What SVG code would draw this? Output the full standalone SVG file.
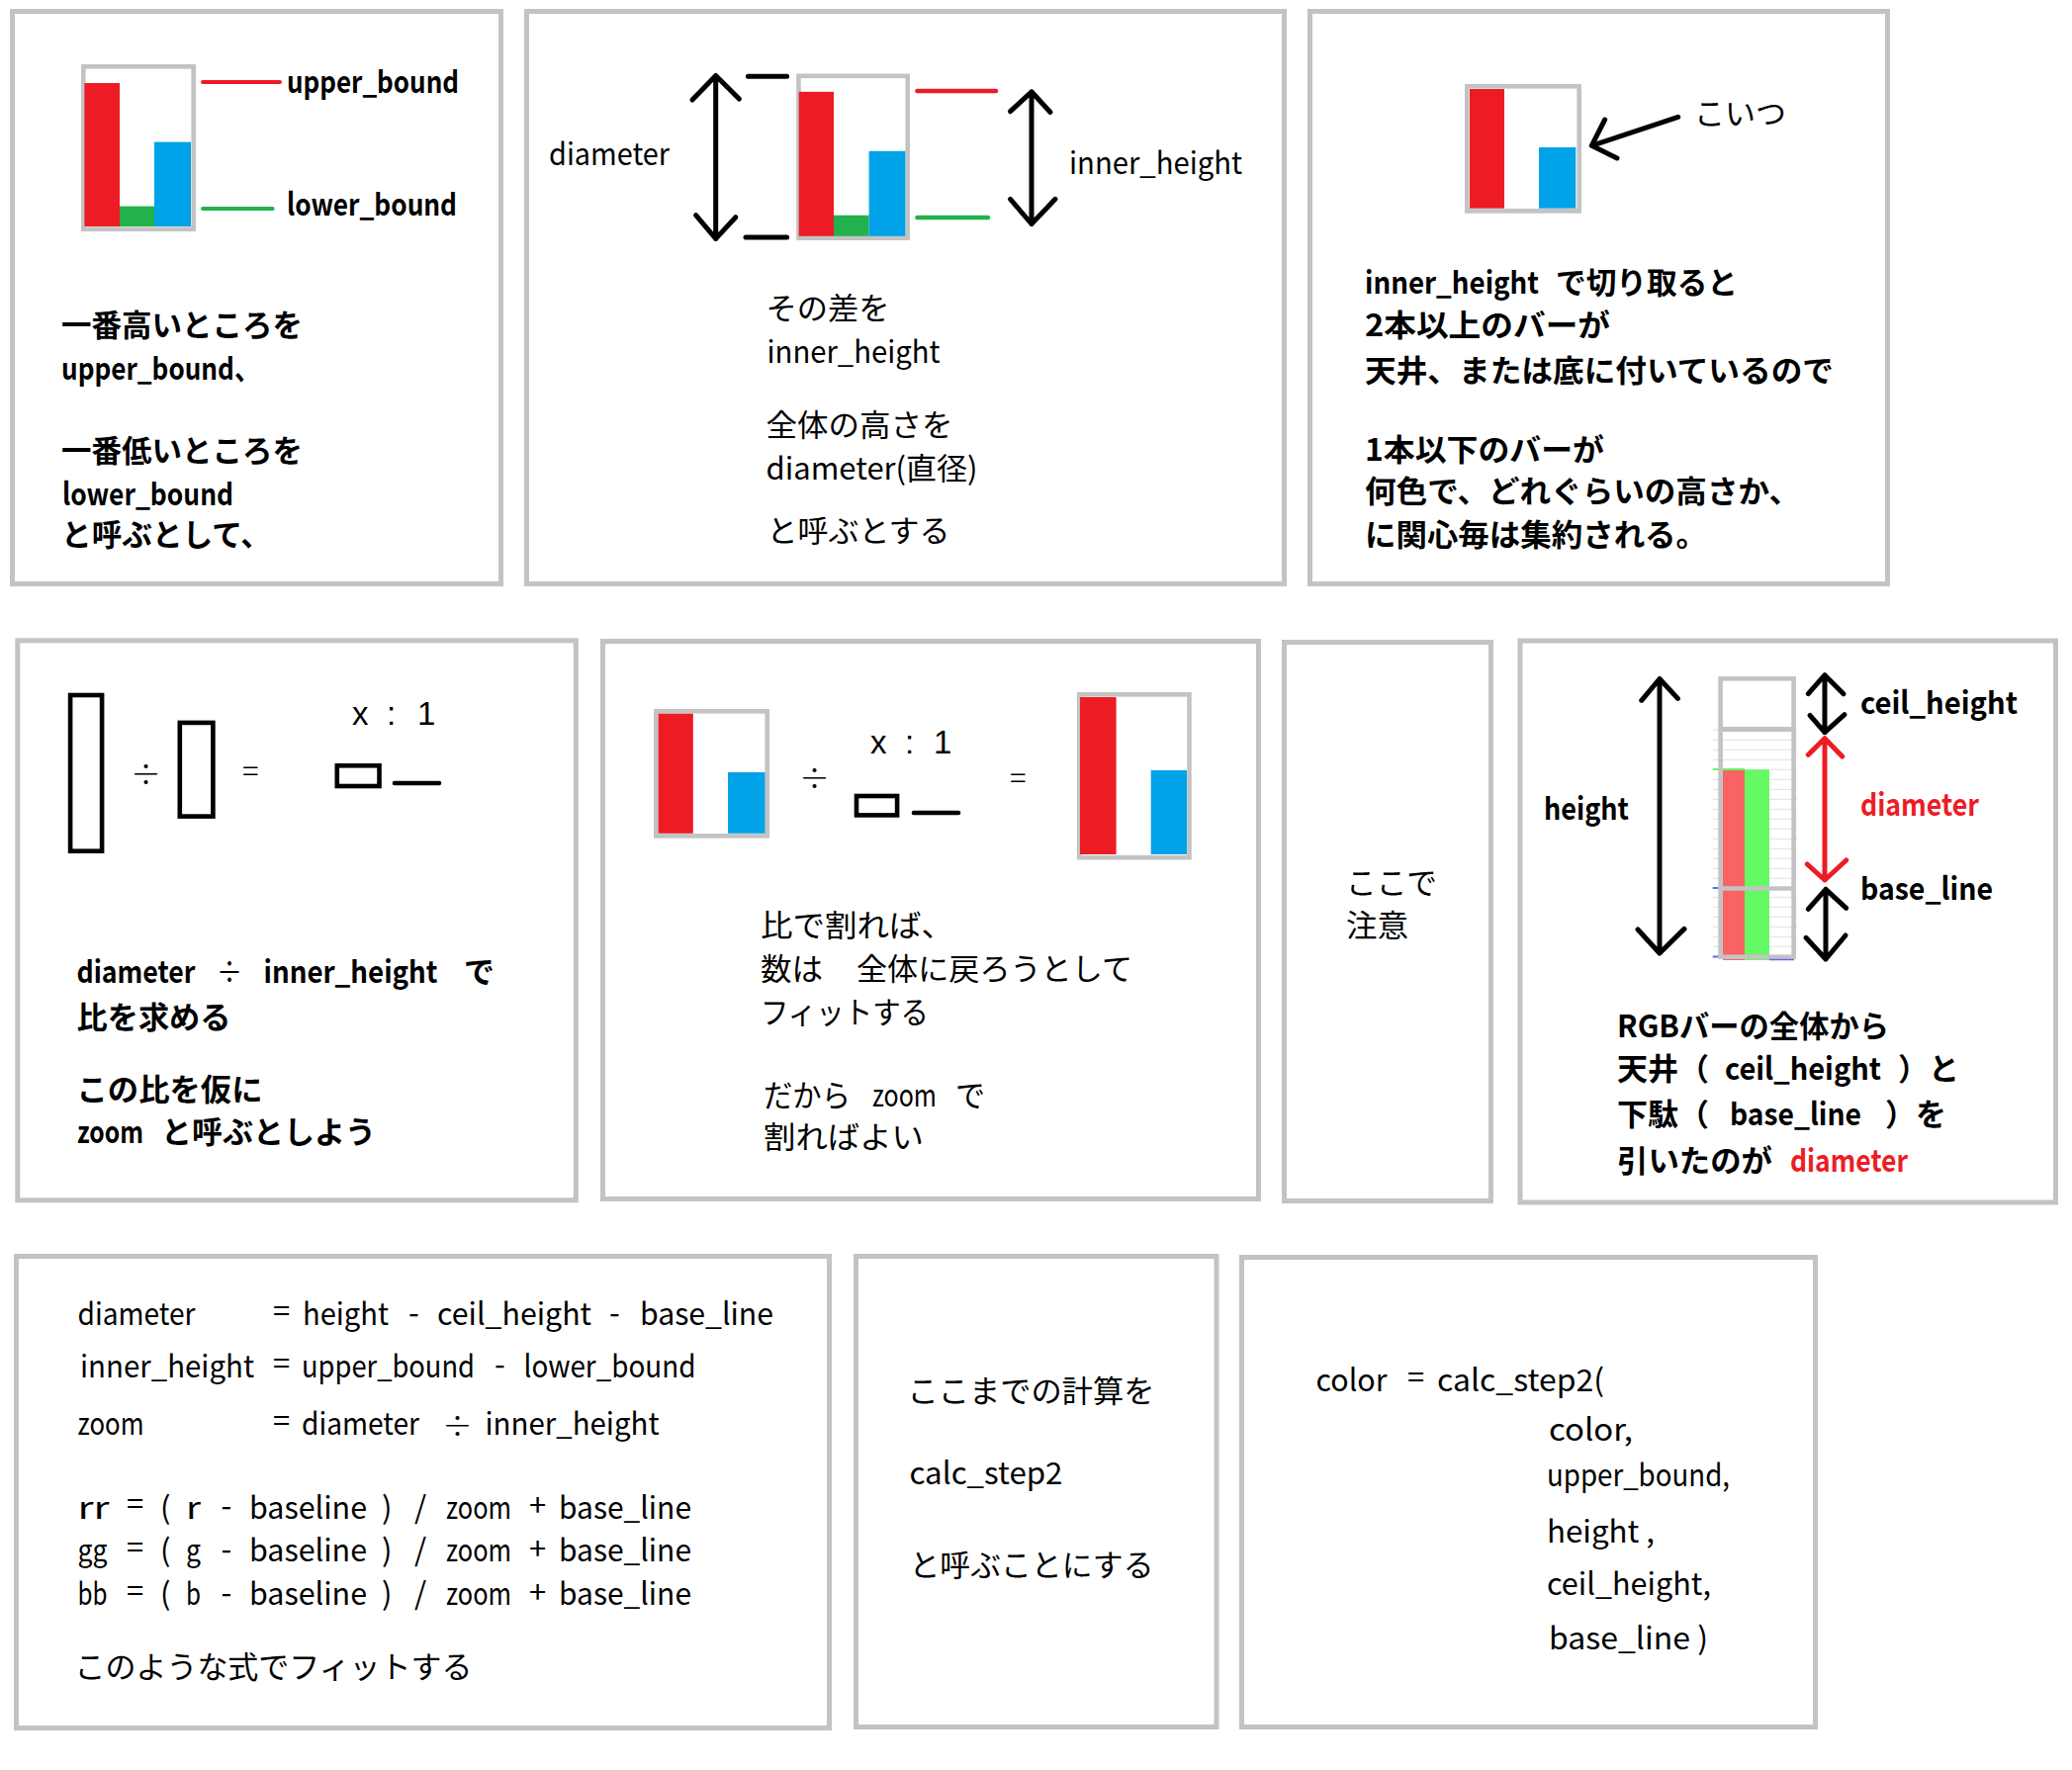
<svg xmlns="http://www.w3.org/2000/svg" width="2095" height="1790" viewBox="0 0 2095 1790">
<style>
.panel{fill:#fff;stroke:#c3c3c3;stroke-width:5}
.frame{fill:#fff;stroke:#c3c3c3;stroke-width:4.6}
.ink{fill:none;stroke:#000;stroke-width:5;stroke-linecap:round;stroke-linejoin:round}
.redink{fill:none;stroke:#ed1c24;stroke-width:5;stroke-linecap:round;stroke-linejoin:round}
.outline{fill:none;stroke:#000;stroke-width:4.6}
.t{font-family:"Noto Sans CJK JP","Noto Sans",sans-serif;font-size:31px;fill:#000}
.b{font-weight:700}
.red{fill:#ed1c24}
.sym{font-family:"Liberation Sans",sans-serif;font-size:33px;fill:#000}
.r{fill:#ed1c24}.g{fill:#22b14c}.bl{fill:#00a2e8}
.grid{stroke:#e6e6e6;stroke-width:1.2}
</style>
<rect width="2095" height="1790" fill="#fff"/>

<g id="p1">
<rect class="panel" x="12.5" y="11.5" width="494" height="579"/>
<rect class="frame" x="84.3" y="67.3" width="111.4" height="164.4"/>
<rect class="r" x="85.4" y="84" width="35.6" height="145"/>
<rect class="g" x="121" y="208.6" width="35" height="20.4"/>
<rect class="bl" x="156" y="143.6" width="37" height="85.4"/>
<line x1="205" y1="83" x2="283" y2="83" stroke="#ed1c24" stroke-width="4" stroke-linecap="round"/>
<line x1="205" y1="211" x2="275.6" y2="211" stroke="#22b14c" stroke-width="4" stroke-linecap="round"/>
<text class="t b" x="290" y="93.5" textLength="174" lengthAdjust="spacingAndGlyphs">upper_bound</text>
<text class="t b" x="290" y="217.5" textLength="172" lengthAdjust="spacingAndGlyphs">lower_bound</text>
<text class="t b" x="62" y="340" textLength="244" lengthAdjust="spacingAndGlyphs">一番高いところを</text>
<text class="t b" x="62" y="384" textLength="201" lengthAdjust="spacingAndGlyphs">upper_bound、</text>
<text class="t b" x="62" y="467" textLength="244" lengthAdjust="spacingAndGlyphs">一番低いところを</text>
<text class="t b" x="63" y="511" textLength="173" lengthAdjust="spacingAndGlyphs">lower_bound</text>
<text class="t b" x="62" y="552" textLength="212" lengthAdjust="spacingAndGlyphs">と呼ぶとして、</text>
</g>

<g id="p2">
<rect class="panel" x="532.5" y="11.5" width="766" height="579"/>
<path class="ink" d="M723.7,76.4 V241.4 M700,101 L723.7,76.4 L747.4,100 M703.6,217.7 L723.7,241.4 L743.8,219.7"/>
<path class="ink" d="M756.4,77.2 H795.6 M754,240 H795.6"/>
<rect class="frame" x="807.5" y="76.8" width="110.2" height="163.9"/>
<rect class="r" x="807.7" y="92.8" width="35.3" height="146"/>
<rect class="g" x="843" y="217.7" width="35.6" height="21.1"/>
<rect class="bl" x="878.6" y="152.8" width="36.8" height="86"/>
<line x1="927.4" y1="92" x2="1007" y2="92" stroke="#ed1c24" stroke-width="4.5" stroke-linecap="round"/>
<line x1="927.4" y1="220" x2="999" y2="220" stroke="#22b14c" stroke-width="4.5" stroke-linecap="round"/>
<path class="ink" d="M1043,92.8 V226.5 M1021.5,112.7 L1043,92.8 L1062,113.5 M1021.5,201.3 L1043,226.5 L1067,201.3"/>
<text class="t" x="555" y="167" textLength="122" lengthAdjust="spacingAndGlyphs">diameter</text>
<text class="t" x="1081" y="175.5" textLength="175" lengthAdjust="spacingAndGlyphs">inner_height</text>
<text class="t" x="774.5" y="323" textLength="125" lengthAdjust="spacingAndGlyphs">その差を</text>
<text class="t" x="775.5" y="366.5" textLength="175" lengthAdjust="spacingAndGlyphs">inner_height</text>
<text class="t" x="774.5" y="441" textLength="189" lengthAdjust="spacingAndGlyphs">全体の高さを</text>
<text class="t" x="774.5" y="485" textLength="214" lengthAdjust="spacingAndGlyphs">diameter(直径)</text>
<text class="t" x="775.5" y="548" textLength="185" lengthAdjust="spacingAndGlyphs">と呼ぶとする</text>
</g>

<g id="p3">
<rect class="panel" x="1324.5" y="11.5" width="584" height="579"/>
<rect class="frame" x="1483.3" y="87.3" width="113.4" height="126.1"/>
<rect class="r" x="1486" y="90" width="35" height="120.7"/>
<rect class="bl" x="1556" y="149" width="37.3" height="61.7"/>
<path class="ink" d="M1696.7,118.3 L1609.3,147.3 M1622.7,121 L1609.3,147.3 L1635,160"/>
<text class="t" x="1713" y="125.5" textLength="93" lengthAdjust="spacingAndGlyphs">こいつ</text>
<text class="t b" x="1380" y="297" textLength="176" lengthAdjust="spacingAndGlyphs">inner_height</text>
<text class="t b" x="1573" y="297" textLength="184" lengthAdjust="spacingAndGlyphs">で切り取ると</text>
<text class="t b" x="1380" y="340" textLength="248" lengthAdjust="spacingAndGlyphs">2本以上のバーが</text>
<text class="t b" x="1380" y="386" textLength="474" lengthAdjust="spacingAndGlyphs">天井、または底に付いているので</text>
<text class="t b" x="1380" y="466" textLength="242" lengthAdjust="spacingAndGlyphs">1本以下のバーが</text>
<text class="t b" x="1380" y="508" textLength="440" lengthAdjust="spacingAndGlyphs">何色で、どれぐらいの高さか、</text>
<text class="t b" x="1380" y="552" textLength="346" lengthAdjust="spacingAndGlyphs">に関心毎は集約される。</text>
</g>

<g id="p4">
<rect class="panel" x="17.8" y="647.8" width="564.5" height="566"/>
<rect class="outline" x="71.1" y="703" width="32" height="157.7"/>
<text class="t" x="132" y="794" font-size="40" font-weight="300">÷</text>
<rect class="outline" x="181.8" y="730.9" width="33.6" height="94.7"/>
<text class="t" x="245" y="791" font-size="36" font-weight="300">=</text>
<text class="sym" x="356" y="733">x</text>
<text class="sym" x="391" y="733">:</text>
<text class="sym" x="422" y="733">1</text>
<rect class="outline" x="340.8" y="774.3" width="42.7" height="20.7"/>
<line x1="399" y1="792" x2="444" y2="792" stroke="#000" stroke-width="4.6" stroke-linecap="round"/>
<text class="t b" x="77.5" y="994" textLength="120" lengthAdjust="spacingAndGlyphs">diameter</text>
<text class="t" x="219" y="994" textLength="26" lengthAdjust="spacingAndGlyphs">÷</text>
<text class="t b" x="266.5" y="994" textLength="176" lengthAdjust="spacingAndGlyphs">inner_height</text>
<text class="t b" x="469" y="994" textLength="31" lengthAdjust="spacingAndGlyphs">で</text>
<text class="t b" x="77.5" y="1040" textLength="156" lengthAdjust="spacingAndGlyphs">比を求める</text>
<text class="t b" x="77.5" y="1113" textLength="188" lengthAdjust="spacingAndGlyphs">この比を仮に</text>
<text class="t b" x="78" y="1156" textLength="67" lengthAdjust="spacingAndGlyphs">zoom</text>
<text class="t b" x="163" y="1156" textLength="217" lengthAdjust="spacingAndGlyphs">と呼ぶとしよう</text>
</g>

<g id="p5">
<rect class="panel" x="609.5" y="648.5" width="663" height="564"/>
<rect class="frame" x="663.3" y="719.3" width="112.4" height="126.1"/>
<rect class="r" x="665.6" y="721.7" width="35.2" height="121.1"/>
<rect class="bl" x="736" y="781" width="37.5" height="61.8"/>
<text class="t" x="808" y="798" font-size="32" font-weight="300">÷</text>
<text class="sym" x="880" y="762">x</text>
<text class="sym" x="915" y="762">:</text>
<text class="sym" x="944" y="762">1</text>
<rect class="outline" x="866" y="805" width="41.1" height="19.4"/>
<line x1="924" y1="822" x2="969" y2="822" stroke="#000" stroke-width="4.6" stroke-linecap="round"/>
<text class="t" x="1021" y="798" font-size="27" font-weight="300">=</text>
<rect class="frame" x="1091.3" y="702.3" width="111.2" height="164.9"/>
<rect class="r" x="1092" y="705" width="36.6" height="159"/>
<rect class="bl" x="1163.7" y="779" width="36.3" height="85"/>
<text class="t" x="769" y="947" textLength="195" lengthAdjust="spacingAndGlyphs">比で割れば、</text>
<text class="t" x="769" y="991" textLength="63" lengthAdjust="spacingAndGlyphs">数は</text>
<text class="t" x="866" y="991" textLength="279" lengthAdjust="spacingAndGlyphs">全体に戻ろうとして</text>
<text class="t" x="769" y="1035" textLength="170" lengthAdjust="spacingAndGlyphs">フィットする</text>
<text class="t" x="772" y="1119" textLength="88" lengthAdjust="spacingAndGlyphs">だから</text>
<text class="t" x="882" y="1119" textLength="65" lengthAdjust="spacingAndGlyphs">zoom</text>
<text class="t" x="966" y="1119" textLength="30" lengthAdjust="spacingAndGlyphs">で</text>
<text class="t" x="772" y="1161" textLength="162" lengthAdjust="spacingAndGlyphs">割ればよい</text>
</g>

<g id="p6">
<rect class="panel" x="1298.5" y="649.5" width="209" height="565"/>
<text class="t" x="1361" y="904" textLength="92" lengthAdjust="spacingAndGlyphs">ここで</text>
<text class="t" x="1361" y="947" textLength="63" lengthAdjust="spacingAndGlyphs">注意</text>
</g>

<g id="p7">
<rect class="panel" x="1537" y="648" width="541.5" height="568"/>
<path class="ink" d="M1678,686.5 V964 M1659.8,708.3 L1678,686.5 L1696.4,706.4 M1656,940 L1678,964 L1703,939.4"/>
<g class="grid">
<line x1="1731.7" y1="738.3" x2="1817.3" y2="738.3"/><line x1="1731.7" y1="748.3" x2="1817.3" y2="748.3"/>
<line x1="1731.7" y1="758.3" x2="1817.3" y2="758.3"/><line x1="1731.7" y1="768.3" x2="1817.3" y2="768.3"/>
<line x1="1731.7" y1="778.3" x2="1817.3" y2="778.3"/><line x1="1731.7" y1="788.3" x2="1817.3" y2="788.3"/>
<line x1="1731.7" y1="798.3" x2="1817.3" y2="798.3"/><line x1="1731.7" y1="808.3" x2="1817.3" y2="808.3"/>
<line x1="1731.7" y1="818.3" x2="1817.3" y2="818.3"/><line x1="1731.7" y1="828.3" x2="1817.3" y2="828.3"/>
<line x1="1731.7" y1="838.3" x2="1817.3" y2="838.3"/><line x1="1731.7" y1="848.3" x2="1817.3" y2="848.3"/>
<line x1="1731.7" y1="858.3" x2="1817.3" y2="858.3"/><line x1="1731.7" y1="868.3" x2="1817.3" y2="868.3"/>
<line x1="1731.7" y1="878.3" x2="1817.3" y2="878.3"/><line x1="1731.7" y1="888.3" x2="1817.3" y2="888.3"/>
<line x1="1731.7" y1="907.3" x2="1817.3" y2="907.3"/><line x1="1731.7" y1="917.3" x2="1817.3" y2="917.3"/>
<line x1="1731.7" y1="927.3" x2="1817.3" y2="927.3"/><line x1="1731.7" y1="937.3" x2="1817.3" y2="937.3"/>
<line x1="1731.7" y1="947.3" x2="1817.3" y2="947.3"/><line x1="1731.7" y1="957.3" x2="1817.3" y2="957.3"/>
</g>
<rect x="1742" y="777.3" width="22" height="193.7" fill="#f86464"/>
<rect x="1764" y="778.3" width="25" height="192.7" fill="#64fa64"/>
<line x1="1731.7" y1="778" x2="1764" y2="778" stroke="#64fa64" stroke-width="2"/>
<rect class="frame" x="1739.6" y="686.3" width="74" height="281.4" fill="none" style="fill:none"/>
<line x1="1739.6" y1="737.5" x2="1813.6" y2="737.5" stroke="#c3c3c3" stroke-width="5"/>
<line x1="1739.6" y1="898.5" x2="1813.6" y2="898.5" stroke="#c3c3c3" stroke-width="4.6"/>
<line x1="1731.7" y1="898" x2="1737.3" y2="898" stroke="#6464f8" stroke-width="2"/>
<line x1="1731.7" y1="967.5" x2="1737.3" y2="967.5" stroke="#6464f8" stroke-width="2"/>
<line x1="1789" y1="970.5" x2="1814" y2="970.5" stroke="#6464f8" stroke-width="1.5"/>
<path class="ink" d="M1845,682.7 V740.7 M1828.3,701.7 L1845,682.7 L1864,701.7 M1830,723.3 L1845,740.7 L1865,722.7"/>
<path class="redink" d="M1845,746.7 V890 M1828.3,763.3 L1845,746.7 L1862.7,765 M1827.3,874 L1845,890 L1866.7,870"/>
<path class="ink" d="M1846,899.3 V970 M1828.3,919.3 L1846,899.3 L1866.7,918.3 M1826,948.3 L1846,970 L1866,946"/>
<text class="t b" x="1561" y="829" textLength="86" lengthAdjust="spacingAndGlyphs">height</text>
<text class="t b" x="1881" y="722" textLength="159" lengthAdjust="spacingAndGlyphs">ceil_height</text>
<text class="t b red" x="1881" y="824.5" textLength="120" lengthAdjust="spacingAndGlyphs">diameter</text>
<text class="t b" x="1881" y="910" textLength="134" lengthAdjust="spacingAndGlyphs">base_line</text>
<text class="t b" x="1635" y="1049" textLength="275" lengthAdjust="spacingAndGlyphs">RGBバーの全体から</text>
<text class="t b" x="1635" y="1092" textLength="93" lengthAdjust="spacingAndGlyphs">天井（</text>
<text class="t b" x="1744" y="1092" textLength="158" lengthAdjust="spacingAndGlyphs">ceil_height</text>
<text class="t b" x="1919" y="1092" textLength="62" lengthAdjust="spacingAndGlyphs">）と</text>
<text class="t b" x="1635" y="1138" textLength="93" lengthAdjust="spacingAndGlyphs">下駄（</text>
<text class="t b" x="1749" y="1138" textLength="133" lengthAdjust="spacingAndGlyphs">base_line</text>
<text class="t b" x="1906" y="1138" textLength="62" lengthAdjust="spacingAndGlyphs">）を</text>
<text class="t b" x="1635" y="1185" textLength="157" lengthAdjust="spacingAndGlyphs">引いたのが</text>
<text class="t b red" x="1810" y="1185" textLength="119" lengthAdjust="spacingAndGlyphs">diameter</text>
</g>

<g id="p8">
<rect class="panel" x="16.5" y="1270.5" width="822" height="477"/>
<text class="t" x="78.5" y="1340" textLength="119" lengthAdjust="spacingAndGlyphs">diameter</text>
<text class="t" x="276" y="1337" font-size="20">=</text>
<text class="t" x="306" y="1340" textLength="87" lengthAdjust="spacingAndGlyphs">height</text>
<text class="t" x="413" y="1339" font-size="24">-</text>
<text class="t" x="442" y="1340" textLength="156" lengthAdjust="spacingAndGlyphs">ceil_height</text>
<text class="t" x="616" y="1339" font-size="24">-</text>
<text class="t" x="647" y="1340" textLength="135" lengthAdjust="spacingAndGlyphs">base_line</text>

<text class="t" x="81" y="1392.5" textLength="176" lengthAdjust="spacingAndGlyphs">inner_height</text>
<text class="t" x="276" y="1390" font-size="20">=</text>
<text class="t" x="305" y="1392.5" textLength="175" lengthAdjust="spacingAndGlyphs">upper_bound</text>
<text class="t" x="500" y="1391" font-size="24">-</text>
<text class="t" x="529.5" y="1392.5" textLength="174" lengthAdjust="spacingAndGlyphs">lower_bound</text>

<text class="t" x="78.5" y="1451" textLength="67" lengthAdjust="spacingAndGlyphs">zoom</text>
<text class="t" x="276" y="1448" font-size="20">=</text>
<text class="t" x="305" y="1451" textLength="119" lengthAdjust="spacingAndGlyphs">diameter</text>
<text class="t" x="447" y="1452.5" font-size="28" font-weight="300">÷</text>
<text class="t" x="490.5" y="1451" textLength="176" lengthAdjust="spacingAndGlyphs">inner_height</text>

<g id="rr">
<text class="t" x="78.5" y="1535.5" textLength="32" lengthAdjust="spacingAndGlyphs">rr</text>
<text class="t" x="128" y="1532" font-size="20">=</text>
<text class="t" x="162" y="1535.5">(</text>
<text class="t" x="188" y="1535.5" textLength="15" lengthAdjust="spacingAndGlyphs">r</text>
<text class="t" x="223.5" y="1534" font-size="24">-</text>
<text class="t" x="252" y="1535.5" textLength="119" lengthAdjust="spacingAndGlyphs">baseline</text>
<text class="t" x="386" y="1535.5">)</text>
<text class="t" x="419" y="1535.5">/</text>
<text class="t" x="451" y="1535.5" textLength="66" lengthAdjust="spacingAndGlyphs">zoom</text>
<text class="t" x="535" y="1533" font-size="24">+</text>
<text class="t" x="565" y="1535.5" textLength="134" lengthAdjust="spacingAndGlyphs">base_line</text>
</g>
<g id="gg">
<text class="t" x="78.5" y="1579" textLength="30" lengthAdjust="spacingAndGlyphs">gg</text>
<text class="t" x="128" y="1575.5" font-size="20">=</text>
<text class="t" x="162" y="1579">(</text>
<text class="t" x="188" y="1579" textLength="15" lengthAdjust="spacingAndGlyphs">g</text>
<text class="t" x="223.5" y="1577.5" font-size="24">-</text>
<text class="t" x="252" y="1579" textLength="119" lengthAdjust="spacingAndGlyphs">baseline</text>
<text class="t" x="386" y="1579">)</text>
<text class="t" x="419" y="1579">/</text>
<text class="t" x="451" y="1579" textLength="66" lengthAdjust="spacingAndGlyphs">zoom</text>
<text class="t" x="535" y="1576.5" font-size="24">+</text>
<text class="t" x="565" y="1579" textLength="134" lengthAdjust="spacingAndGlyphs">base_line</text>
</g>
<g id="bb">
<text class="t" x="78.5" y="1623" textLength="30" lengthAdjust="spacingAndGlyphs">bb</text>
<text class="t" x="128" y="1619.5" font-size="20">=</text>
<text class="t" x="162" y="1623">(</text>
<text class="t" x="188" y="1623" textLength="15" lengthAdjust="spacingAndGlyphs">b</text>
<text class="t" x="223.5" y="1621.5" font-size="24">-</text>
<text class="t" x="252" y="1623" textLength="119" lengthAdjust="spacingAndGlyphs">baseline</text>
<text class="t" x="386" y="1623">)</text>
<text class="t" x="419" y="1623">/</text>
<text class="t" x="451" y="1623" textLength="66" lengthAdjust="spacingAndGlyphs">zoom</text>
<text class="t" x="535" y="1620.5" font-size="24">+</text>
<text class="t" x="565" y="1623" textLength="134" lengthAdjust="spacingAndGlyphs">base_line</text>
</g>
<text class="t" x="75.5" y="1697" textLength="402" lengthAdjust="spacingAndGlyphs">このような式でフィットする</text>
</g>

<g id="p9">
<rect class="panel" x="865.5" y="1270.5" width="364.5" height="476"/>
<text class="t" x="917.5" y="1418" textLength="250" lengthAdjust="spacingAndGlyphs">ここまでの計算を</text>
<text class="t" x="919.5" y="1501" textLength="155" lengthAdjust="spacingAndGlyphs">calc_step2</text>
<text class="t" x="919.5" y="1594" textLength="247" lengthAdjust="spacingAndGlyphs">と呼ぶことにする</text>
</g>

<g id="p10">
<rect class="panel" x="1255.5" y="1271.5" width="580" height="475"/>
<text class="t" x="1330.5" y="1406.5" textLength="72" lengthAdjust="spacingAndGlyphs">color</text>
<text class="t" x="1423" y="1404" font-size="20">=</text>
<text class="t" x="1453" y="1406.5" textLength="169" lengthAdjust="spacingAndGlyphs">calc_step2(</text>
<text class="t" x="1566" y="1456.5" textLength="85" lengthAdjust="spacingAndGlyphs">color,</text>
<text class="t" x="1564" y="1503" textLength="185" lengthAdjust="spacingAndGlyphs">upper_bound,</text>
<text class="t" x="1564" y="1559.5" textLength="109" lengthAdjust="spacingAndGlyphs">height ,</text>
<text class="t" x="1564" y="1613" textLength="166" lengthAdjust="spacingAndGlyphs">ceil_height,</text>
<text class="t" x="1566" y="1668" textLength="161" lengthAdjust="spacingAndGlyphs">base_line )</text>
</g>

<g id="connectors"></g>
</svg>
